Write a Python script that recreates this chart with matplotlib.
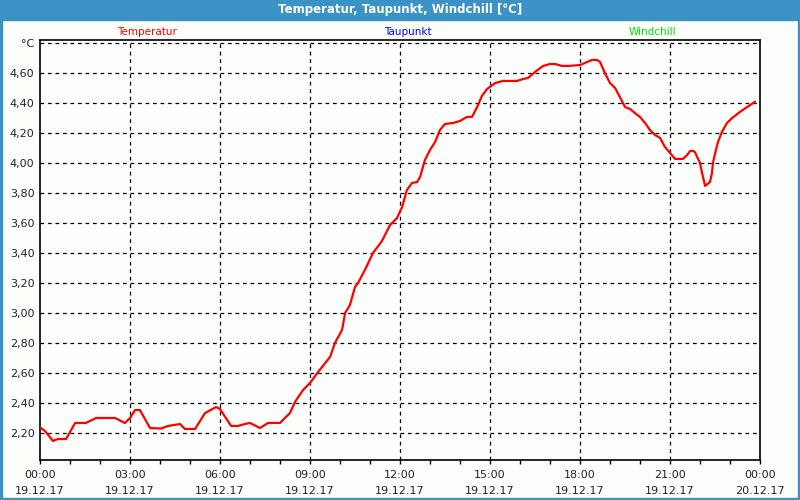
import numpy as np
import matplotlib
matplotlib.use('Agg')
import matplotlib.pyplot as plt
from matplotlib.patches import Rectangle
from matplotlib.ticker import FixedLocator, FuncFormatter, MultipleLocator

# hours since 19.12.17 00:00
hours = [0.03, 0.17, 0.43, 0.60, 0.87, 1.17, 1.53, 1.87, 2.50, 2.83, 3.00, 3.17, 3.33, 3.67,
         4.03, 4.27, 4.67, 4.83, 5.17, 5.50, 5.87, 6.00, 6.37, 6.60, 6.83, 7.00, 7.33, 7.60,
         8.00, 8.33, 8.50, 8.77, 9.00, 9.27, 9.67, 9.83, 10.07, 10.17, 10.33, 10.50, 10.60,
         10.83, 11.10, 11.40, 11.67, 11.90, 12.07, 12.23, 12.40, 12.57, 12.67, 12.83, 13.00,
         13.17, 13.33, 13.50, 13.77, 14.00, 14.23, 14.40, 14.57, 14.73, 14.90, 15.17, 15.43,
         15.90, 16.10, 16.27, 16.50, 16.77, 17.00, 17.17, 17.40, 17.60, 18.00, 18.23, 18.40,
         18.57, 18.67, 18.83, 19.00, 19.17, 19.33, 19.50, 19.67, 19.83, 20.00, 20.17, 20.33,
         20.50, 20.67, 20.83, 21.00, 21.17, 21.43, 21.57, 21.67, 21.77, 21.83, 22.00, 22.07,
         22.17, 22.33, 22.40, 22.43, 22.53, 22.60, 22.73, 22.90, 23.07, 23.33, 23.57, 23.83]
temperatur = [2.233, 2.213, 2.147, 2.16, 2.16, 2.267, 2.267, 2.30, 2.30, 2.267, 2.30, 2.353, 2.353, 2.233,
              2.23, 2.247, 2.26, 2.227, 2.227, 2.333, 2.373, 2.36, 2.247, 2.247, 2.26, 2.267, 2.233, 2.267,
              2.267, 2.333, 2.407, 2.487, 2.533, 2.607, 2.707, 2.80, 2.887, 3.00, 3.053, 3.173, 3.20,
              3.287, 3.40, 3.48, 3.587, 3.633, 3.707, 3.82, 3.867, 3.873, 3.907, 4.02, 4.087,
              4.14, 4.22, 4.26, 4.267, 4.28, 4.307, 4.307, 4.373, 4.447, 4.493, 4.533, 4.547,
              4.547, 4.56, 4.567, 4.607, 4.647, 4.66, 4.66, 4.647, 4.647, 4.653, 4.673, 4.687,
              4.687, 4.673, 4.60, 4.533, 4.50, 4.44, 4.373, 4.36, 4.333, 4.307, 4.267, 4.22,
              4.187, 4.167, 4.107, 4.067, 4.027, 4.027, 4.053, 4.08, 4.08, 4.073, 4.00, 3.933,
              3.847, 3.873, 3.933, 4.00, 4.087, 4.14, 4.207, 4.267, 4.30, 4.34, 4.373, 4.407]

series_names = ['Temperatur', 'Taupunkt', 'Windchill']
series_colors = ['#ff0000', '#0000ff', '#00e000']
x_times = ['00:00', '03:00', '06:00', '09:00', '12:00', '15:00', '18:00', '21:00', '00:00']
x_dates = ['19.12.17'] * 8 + ['20.12.17']
y_ticks = [2.2, 2.4, 2.6, 2.8, 3.0, 3.2, 3.4, 3.6, 3.8, 4.0, 4.2, 4.4, 4.6, 4.8]

plt.rcParams['font.family'] = 'DejaVu Sans'
fig = plt.figure(figsize=(8, 5), dpi=100, facecolor='#fbfefb')

# window frame + title bar
blue = '#3b92c5'
fig.patches.append(Rectangle((0, 0.96), 1, 0.04, transform=fig.transFigure, color=blue, zorder=0))
fig.patches.append(Rectangle((0, 0), 0.003, 1, transform=fig.transFigure, color=blue, zorder=0))
fig.patches.append(Rectangle((0.997, 0), 0.003, 1, transform=fig.transFigure, color=blue, zorder=0))
fig.patches.append(Rectangle((0, 0), 1, 0.005, transform=fig.transFigure, color=blue, zorder=0))
fig.text(0.5, 0.98, 'Temperatur, Taupunkt, Windchill [°C]', color='white', fontsize=8.5,
         fontweight='bold', ha='center', va='center')

for name, col, xp in zip(series_names, series_colors, [0.184, 0.51, 0.815]):
    fig.text(xp, 0.936, name, color=col, fontsize=7.5, ha='center', va='center')

ax = fig.add_axes([0.05, 0.08, 0.90, 0.84])
ax.set_facecolor('#fbfefb')
ax.plot(hours, temperatur, color=series_colors[0], lw=1.6, zorder=3)

ax.set_xlim(0, 24)
ax.set_ylim(2.02, 4.82)

ax.xaxis.set_major_locator(FixedLocator(np.arange(0, 25, 3)))
ax.xaxis.set_minor_locator(MultipleLocator(1))
ax.set_xticklabels([f'{t}\n{d}' for t, d in zip(x_times, x_dates)])
ax.tick_params(axis='x', which='both', direction='out', length=3, width=1, color='black',
               labelsize=8, labelcolor='#222222', pad=4)

ax.yaxis.set_major_locator(FixedLocator(y_ticks))
ax.yaxis.set_major_formatter(FuncFormatter(
    lambda v, p: '°C' if abs(v - 4.8) < 1e-6 else f'{v:.2f}'.replace('.', ',')))
ax.tick_params(axis='y', length=0, labelsize=8, labelcolor='#222222', pad=4)
for lab in ax.get_xticklabels():
    lab.set_linespacing(1.75)

for v in y_ticks:
    ax.axhline(v, color='black', lw=0.9, ls=(0, (3, 3)), zorder=1)
for h in range(3, 24, 3):
    ax.axvline(h, color='black', lw=0.9, ls=(0, (3, 3)), zorder=1)

for s in ax.spines.values():
    s.set_linewidth(1.2)
    s.set_color('black')

fig.savefig('out.png', dpi=100, facecolor=fig.get_facecolor())
